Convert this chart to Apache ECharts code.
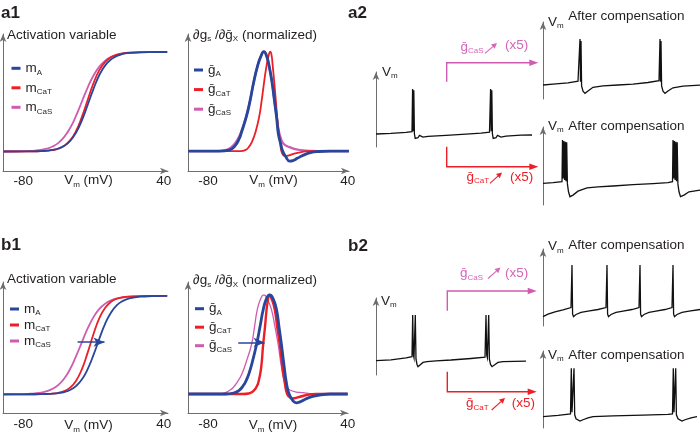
<!DOCTYPE html>
<html><head><meta charset="utf-8">
<script src="https://cdn.jsdelivr.net/npm/echarts@6/dist/echarts.min.js"></script>
<style>html,body{margin:0;padding:0;background:#fff}#c{width:700px;height:439px}</style>
</head><body><div id="c"></div><script>
// ---------- DATA ----------
const xTicks = [-80, 40];
// Activation variable (panels a1 / b1 left)
const actV = [-97,-85,-75,-70,-65,-60,-55,-50,-45,-40,-35,-30,-25,-20,-15,-10,-5,0,5,10,20,30,43];
const a1_mA   = [0.0001,0.0003,0.0011,0.0022,0.0042,0.0082,0.0158,0.030,0.057,0.106,0.187,0.310,0.467,0.630,0.769,0.866,0.926,0.961,0.980,0.989,0.997,0.999,1];
const a1_mCaT = [0,0.0002,0.0008,0.0017,0.0035,0.0072,0.0146,0.029,0.058,0.112,0.204,0.345,0.518,0.687,0.818,0.901,0.949,0.974,0.987,0.994,0.998,1,1];
const a1_mCaS = [0.0004,0.0015,0.005,0.0089,0.016,0.0285,0.050,0.087,0.147,0.236,0.357,0.5,0.643,0.764,0.853,0.913,0.950,0.971,0.984,0.991,0.997,0.999,1];
const b1_mA   = [0,0.0001,0.0004,0.0009,0.0017,0.0032,0.0063,0.012,0.023,0.044,0.083,0.150,0.256,0.401,0.566,0.718,0.832,0.906,0.949,0.973,0.993,0.998,1];
const b1_mCaT = [0,0.0001,0.0003,0.0007,0.0016,0.0034,0.0072,0.0155,0.033,0.068,0.136,0.254,0.424,0.613,0.774,0.881,0.941,0.972,0.987,0.994,0.999,1,1];
const b1_mCaS = [0.0004,0.0017,0.0056,0.010,0.018,0.032,0.056,0.096,0.161,0.257,0.385,0.529,0.670,0.785,0.868,0.922,0.955,0.975,0.986,0.992,0.998,0.999,1];
// Sensitivity (normalized), a1 right
const a1_gA_V   = [-97,-70,-62,-57,-53,-51.5,-47,-44,-41,-37.6,-34.7,-32,-29.5,-27.4,-25,-23.1,-21,-19.7,-17.5,-15.9,-13,-10,-7,-3,2,8,15,25,41];
const a1_gA     = [0,0,0.01,0.05,0.13,0.18,0.35,0.5,0.68,0.85,0.95,1.0,0.95,0.85,0.69,0.52,0.33,0.18,0.07,0,-0.06,-0.1,-0.095,-0.07,-0.04,-0.015,-0.004,0,0];
const a1_gCaT_V = [-97,-52,-48,-45,-42,-39,-36,-34,-32,-30,-28,-26.5,-25.5,-24.6,-23,-21.7,-20.5,-19.1,-18,-17,-15.5,-14,-11,-6,0,5,41];
const a1_gCaT   = [0,0,0.01,0.04,0.1,0.2,0.35,0.5,0.68,0.84,0.96,1.0,0.97,0.88,0.68,0.5,0.33,0.18,0.08,0,-0.04,-0.05,-0.045,-0.025,-0.01,0,0];
const a1_gCaS_V = [-97,-72,-65,-60,-56,-52,-47,-44,-41,-37.6,-34.7,-32,-29.5,-27.4,-25,-23.1,-21,-19.5,-17.5,-15.5,-13,-10,-5,0,8,20,41];
const a1_gCaS   = [0,0,0.01,0.04,0.09,0.18,0.36,0.5,0.68,0.85,0.95,1.0,0.95,0.85,0.69,0.52,0.34,0.22,0.13,0.08,0.055,0.04,0.02,0.01,0.003,0,0];
// Sensitivity (normalized), b1 right
const b1_gA_V   = [-97,-65,-58,-53,-50,-48.3,-45,-42,-38.3,-35,-32.6,-29.5,-26.9,-24,-21.1,-19,-16.9,-14.8,-12.6,-10.3,-7,-4,-1,4,10,17,25,40];
const b1_gA     = [0,0,0.01,0.04,0.08,0.11,0.2,0.32,0.5,0.7,0.85,0.97,1.0,0.96,0.85,0.68,0.5,0.3,0.11,0,-0.07,-0.09,-0.08,-0.05,-0.025,-0.008,0,0];
const b1_gCaT_V = [-97,-50,-45,-42,-39.5,-38,-36.9,-34.5,-32.6,-31,-29.7,-28.5,-27.5,-25,-22.6,-20.5,-18.3,-16,-14,-12,-9.5,-6.9,-3,3,8,13,40];
const b1_gCaT   = [0,0,0.005,0.02,0.05,0.08,0.11,0.25,0.5,0.68,0.85,0.95,1.0,0.95,0.85,0.67,0.5,0.27,0.11,0,-0.035,-0.045,-0.035,-0.015,-0.005,0,0];
const b1_gCaS_V = [-97,-72,-66,-61,-58,-55.4,-51,-47,-42.6,-40,-37.7,-34.5,-32,-29,-25.4,-22.5,-19.7,-17,-14,-11.5,-9.7,-5,1.7,8,15,40];
const b1_gCaS   = [0,0,0.01,0.04,0.07,0.11,0.2,0.33,0.5,0.68,0.85,0.97,1.0,0.96,0.85,0.68,0.5,0.28,0.11,0.06,0.04,0.022,0.013,0.004,0,0];
// Voltage traces (time in arbitrary units, Vm in mV)
const a2L_t  = [0,15,30,36,36.6,37.2,37.8,38.4,39.2,40.5,42,43.5,45,47,52,70,90,105,113.5,114.6,115.2,115.8,116.4,117.2,118.5,120,121.5,123,125,130,145,156];
const a2L_v  = [-50.3,-49.5,-47.8,-46.8,17.9,-46,16,-50,-57,-59.4,-56,-52.5,-54,-55,-53.8,-52.5,-50.5,-49,-47.5,17.9,-46,16,-50,-57,-59.4,-56,-52.5,-54,-55,-53.5,-52,-51.8];
const a2TR_t = [0,10,25,35,36.5,37,37.5,38,38.6,40,42,45,50,60,75,90,105,116,117,117.5,118,118.6,120,122,125,130,140,157];
const a2TR_v = [-48.8,-47.5,-45.5,-43,-42.3,20.9,-44,18,-50,-58,-61.4,-58,-52.3,-50,-48.8,-47.5,-45,-42.3,20.9,-44,18,-50,-58,-61.4,-58,-53,-50.5,-49];
const a2BR_t = [0,10,19,19.5,20.2,20.9,21.6,22.3,23,23.7,24.4,25.5,27,30,35,44,55,70,90,110,125,129.5,130,130.7,131.4,132.1,132.8,133.5,134.2,134.9,136,137.5,141,146,157];
const a2BR_v = [-37.1,-36.2,-34.7,28.5,-30,27,-32,26,-34,25,-38,-50,-57.4,-55,-49,-44.2,-42.5,-41.2,-39,-37.5,-36,-34.7,28.5,-30,27,-32,26,-34,25,-38,-50,-57.4,-55,-50,-47.3];
const b2L_t  = [0,15,30,36,36.7,37.4,38,38.6,39.3,40,41,42,44,47,51,60,75,95,109,110,110.7,111.4,112,112.7,113.4,114.5,116,118,122,127,150];
const b2L_v  = [-48.3,-47,-44,-42.3,20.9,-40,-44,-44,20.9,-46,-54,-57.4,-55,-51,-49.8,-48.5,-47.3,-45,-43,20.9,-40,-44,-44,20.9,-46,-54,-57.4,-55,-51,-49.8,-49];
const b2TR_t = [0,5,12,20,28,29,29.6,30.5,33,38,45,55,63,64,64.6,65.5,68,73,80,89,96,97,97.6,98.5,101,106,113,122,129,130,130.6,131.5,134,139,146,157];
const b2TR_v = [-55.9,-52,-48.5,-45.5,-42,22.4,-52,-55.9,-52.5,-49.5,-47.5,-45,-42,22.4,-52,-55.9,-52.5,-49.5,-47.5,-45,-42,22.4,-52,-55.9,-52.5,-49.5,-47.5,-45,-42,22.4,-52,-55.9,-52.5,-49.5,-47.5,-45];
const b2BR_t = [0,15,27.5,28.3,29,29.6,30.3,31,31.7,33,37,40,45,50,70,100,125,129.5,130.3,131,131.6,132,132.7,133.4,135,139,142,148,154];
const b2BR_v = [-52.9,-51,-48.8,20.5,-46,-49,-49,20.5,-50,-56,-59.4,-57.5,-54.5,-52.9,-51.5,-50.5,-49.5,-48.8,20.5,-46,-49,-49,20.5,-50,-56,-59.4,-57.5,-54.5,-52.9];

// ---------- STYLE ----------
const FONT = '"Liberation Sans", Arial, sans-serif';
const TXT = '#231f20', AX = '#6d6e71';
const BLUE = '#28469b', RED = '#ec1f27', PINK = '#cf5cb1', PINKT = '#d467b7';
function R(c){ return {
  n:{fontFamily:FONT,fontSize:13.5,color:c,fill:c,lineHeight:16},
  s:{fontFamily:FONT,fontSize:8,color:c,fill:c,verticalAlign:'bottom'}
};}
const LEG = {mA:'{n|m}{s|A}', mCaT:'{n|m}{s|CaT}', mCaS:'{n|m}{s|CaS}',
             gA:'{n|ḡ}{s|A}', gCaT:'{n|ḡ}{s|CaT}', gCaS:'{n|ḡ}{s|CaS}'};

const grids = [
  {left:3,   top:34,  width:165, height:137}, // 0 a1 left
  {left:188, top:34,  width:161, height:137}, // 1 a1 right
  {left:376, top:72,  width:156, height:75},  // 2 a2 left trace
  {left:543, top:22,  width:157, height:77},  // 3 a2 top right
  {left:543, top:127, width:157, height:78},  // 4 a2 bottom right
  {left:3,   top:282, width:165, height:131}, // 5 b1 left
  {left:188, top:282, width:160, height:131}, // 6 b1 right
  {left:376, top:298, width:150, height:77},  // 7 b2 left trace
  {left:543, top:249, width:157, height:77},  // 8 b2 top right
  {left:543, top:351, width:157, height:77}   // 9 b2 bottom right
].map(g=>Object.assign({outerBoundsMode:'none', containLabel:false}, g));

const axLine = {show:true, onZero:false, lineStyle:{color:AX,width:1}, symbol:['none','arrow'], symbolSize:[5,8]};

function curveX(gi,min,max,pad,margin,gap){ return {
  gridIndex:gi, type:'value', min, max, axisLine:axLine, axisTick:{show:false, customValues:xTicks}, splitLine:{show:false},
  axisLabel:{customValues:xTicks, margin, fontFamily:FONT, fontSize:13.5, color:TXT, hideOverlap:false},
  name:'{n|V}{s|m}{n| (mV)}', nameLocation:'middle', nameGap:gap, nameMoveOverlap:false,
  nameTextStyle:{rich:R(TXT), padding:[0,0,0,pad]}
};}
function curveY(gi,min,max,name,gap,pad){ return {
  gridIndex:gi, type:'value', min, max, axisLine:axLine, axisTick:{show:false}, axisLabel:{show:false}, splitLine:{show:false},
  name, nameLocation:'end', nameGap:gap, nameMoveOverlap:false,
  nameTextStyle:{rich:R(TXT), align:'left', verticalAlign:'middle', padding:[0,0,0,pad]}
};}
function traceX(gi,w){ return {gridIndex:gi, type:'value', min:0, max:w, show:false}; }
function traceY(gi,max,gap,pad){ return {
  gridIndex:gi, type:'value', min:-70, max, axisLine:axLine, axisTick:{show:false}, axisLabel:{show:false}, splitLine:{show:false},
  name:'{n|V}{s|m}', nameLocation:'end', nameGap:gap, nameMoveOverlap:false,
  nameTextStyle:{rich:R(TXT), align:'left', verticalAlign:'middle', padding:[0,0,0,pad]}
};}

const xAxis = [
  curveX(0,-97.4,43.7,6,3,1.5), curveX(1,-97.2,41.1,10,3,1.5),
  traceX(2,156), traceX(3,157), traceX(4,157),
  curveX(5,-97.4,43.7,6,4.6,4.5), curveX(6,-97.2,40.3,10,4.6,4.5),
  traceX(7,150), traceX(8,157), traceX(9,157)
];
const DG = '{n|∂g}{s|s}{n| /∂ḡ}{s|X}{n| (normalized)}';
const yAxis = [
  curveY(0,-0.196,1.181,'{n|Activation variable}',-1,4),
  curveY(1,-0.2,1.178,DG,-1,5),
  traceY(2,43.6,0,6), traceY(3,46.7,0,5), traceY(4,48.2,1,5),
  curveY(5,-0.19,1.142,'{n|Activation variable}',2.7,4),
  curveY(6,-0.192,1.131,DG,1.3,5),
  traceY(7,46.7,-3,5), traceY(8,46.7,2.3,5), traceY(9,46.7,-4,5)
];

function pairs(xs,ys){ return xs.map((x,i)=>[x,ys[i]]); }
function curve(name,gi,xs,ys,color,w,extra){ return Object.assign({
  name, type:'line', xAxisIndex:gi, yAxisIndex:gi, data:pairs(xs,ys), showSymbol:false,
  smooth:0.5, lineStyle:{color,width:w}, itemStyle:{color}, clip:false, silent:true
}, extra||{});}
function trace(gi,ts,vs){ return {type:'line', xAxisIndex:gi, yAxisIndex:gi, data:pairs(ts,vs), showSymbol:false,
  lineStyle:{color:'#111',width:1.3,join:'miter'}, clip:false, silent:true};}
function arrowMark(from,to){ return {markLine:{silent:true, animation:false, symbol:['none','arrow'], symbolSize:[7,11],
  lineStyle:{color:BLUE,width:1.5,type:'solid'}, label:{show:false}, emphasis:{disabled:true},
  data:[[{coord:from},{coord:to}]]}}; }

const series = [
  curve('mCaS',0,actV,a1_mCaS,PINK,1.8), curve('mCaT',0,actV,a1_mCaT,RED,1.8), curve('mA',0,actV,a1_mA,BLUE,1.8),
  curve('gCaS',1,a1_gCaS_V,a1_gCaS,PINK,2.2), curve('gCaT',1,a1_gCaT_V,a1_gCaT,RED,1.8), curve('gA',1,a1_gA_V,a1_gA,BLUE,2.8),
  trace(2,a2L_t,a2L_v), trace(3,a2TR_t,a2TR_v), trace(4,a2BR_t,a2BR_v),
  curve('mCaS',5,actV,b1_mCaS,PINK,1.8), curve('mCaT',5,actV,b1_mCaT,RED,1.8),
  curve('mA',5,actV,b1_mA,BLUE,1.8,arrowMark([-33.6,0.53],[-10.6,0.53])),
  curve('gCaS',6,b1_gCaS_V,b1_gCaS,PINK,1.3), curve('gCaT',6,b1_gCaT_V,b1_gCaT,RED,2.4),
  curve('gA',6,b1_gA_V,b1_gA,BLUE,2.8,arrowMark([-54,0.52],[-31.4,0.52])),
  trace(7,b2L_t,b2L_v), trace(8,b2TR_t,b2TR_v), trace(9,b2BR_t,b2BR_v)
];

function legend(names,left,top,gap){ return {data:names, orient:'vertical', left, top, itemGap:gap, itemWidth:9, itemHeight:3,
  icon:'rect', padding:0, selectedMode:false, formatter:n=>LEG[n],
  textStyle:{rich:R(TXT), fontFamily:FONT, fontSize:13.5, color:TXT, lineHeight:16}};}
const legends = [
  legend(['mA','mCaT','mCaS'],11.5,60.3,3.5),
  legend(['gA','gCaT','gCaS'],194,62,3.6),
  legend(['mA','mCaT','mCaS'],10,301,0),
  legend(['gA','gCaT','gCaS'],195,300.7,2.5)
];

// ---------- ANNOTATIONS ----------
function txt(x,y,text,color,size,weight){ return {type:'text', x, y, silent:true, style:{text, fill:color,
  font:(weight||'normal')+' '+size+'px '+FONT, align:'left', verticalAlign:'middle', rich:R(color)}}; }
function lArrow(x0,y0,y1,x1,color){ const L=9,H=3.3; return [
  {type:'polyline', silent:true, shape:{points:[[x0,y0],[x0,y1],[x1-L+1,y1]]}, style:{stroke:color,lineWidth:1.4,fill:null}},
  {type:'polygon', silent:true, shape:{points:[[x1,y1],[x1-L,y1-H],[x1-L,y1+H]]}, style:{fill:color}}];}
function dArrow(x1,y1,x2,y2,color){ const a=Math.atan2(y2-y1,x2-x1), L=5.5, H=2.8;
  const bx=x2-L*Math.cos(a), by=y2-L*Math.sin(a), px=-Math.sin(a)*H, py=Math.cos(a)*H; return [
  {type:'line', silent:true, shape:{x1,y1,x2:bx,y2:by}, style:{stroke:color,lineWidth:1.1}},
  {type:'polygon', silent:true, shape:{points:[[x2,y2],[bx+px,by+py],[bx-px,by-py]]}, style:{fill:color}}];}

const graphic = [
  txt(1,13,'a1',TXT,17,'bold'), txt(348,13,'a2',TXT,17,'bold'),
  txt(1,245,'b1',TXT,17,'bold'), txt(348,246,'b2',TXT,17,'bold'),
  txt(568.3,16,'After compensation',TXT,13.5), txt(568.3,126,'After compensation',TXT,13.5),
  txt(568.3,245,'After compensation',TXT,13.5), txt(568.3,355,'After compensation',TXT,13.5),
  ...lArrow(446.7,81.7,62.7,538.3,PINK), ...lArrow(446.7,146.7,166.7,538.3,RED),
  ...lArrow(447.3,310.7,291,536.7,PINK), ...lArrow(447.3,371.7,391.7,536.7,RED),
  txt(460.5,47,'{n|ḡ}{s|CaS}',PINKT,13.5), ...dArrow(485,53.3,497,43,PINKT), txt(505,45.5,'{n|(x5)}',PINKT,13.5),
  txt(466.5,177,'{n|ḡ}{s|CaT}',RED,13.5), ...dArrow(490,183.3,502,172.5,RED), txt(510,177,'{n|(x5)}',RED,13.5),
  txt(460,273.5,'{n|ḡ}{s|CaS}',PINKT,13.5), ...dArrow(488,278.5,500.5,267.5,PINKT), txt(505,273.5,'{n|(x5)}',PINKT,13.5),
  txt(466,403.5,'{n|ḡ}{s|CaT}',RED,13.5), ...dArrow(491.7,410,505,398,RED), txt(511.7,403,'{n|(x5)}',RED,13.5)
];

const chart = echarts.init(document.getElementById('c'), null, {renderer:'canvas'});
chart.setOption({animation:false, backgroundColor:'#fff', grid:grids, xAxis, yAxis, series, legend:legends, graphic, tooltip:{show:false}});
</script></body></html>
